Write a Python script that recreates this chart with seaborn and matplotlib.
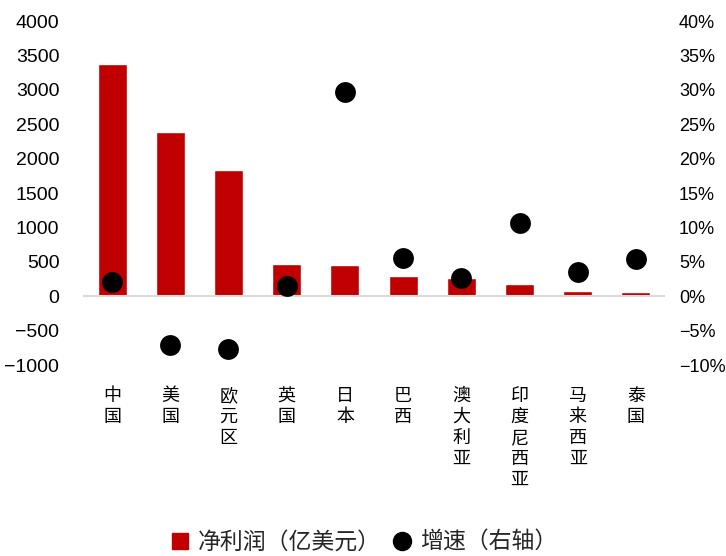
import numpy as np
import pandas as pd
import matplotlib
matplotlib.use("Agg")
import matplotlib.pyplot as plt
from matplotlib.lines import Line2D
from matplotlib.ticker import FuncFormatter
import seaborn as sns

# Net profit (100 million USD) and its growth rate by region
regions = ["中国", "美国", "欧元区", "英国", "日本", "巴西", "澳大利亚", "印度尼西亚", "马来西亚", "泰国"]
net_profit = [3380, 2385, 1835, 461, 451, 291, 267, 176, 83, 62]
growth_pct = [2.0, -7.1, -7.7, 1.45, 29.7, 5.6, 2.6, 10.7, 3.5, 5.4]

left_ticks = [-1000, -500, 0, 500, 1000, 1500, 2000, 2500, 3000, 3500, 4000]
right_ticks = [-10, -5, 0, 5, 10, 15, 20, 25, 30, 35, 40]

df = pd.DataFrame({"region": regions, "profit": net_profit, "growth": growth_pct})

sns.set_theme(style="white")
plt.rcParams["font.family"] = ["Liberation Sans", "Noto Sans CJK SC", "DejaVu Sans"]
plt.rcParams["axes.unicode_minus"] = True

BAR_RED = "#C00000"
CJK = ["Noto Sans CJK SC", "DejaVu Sans"]

fig = plt.figure(figsize=(7.26, 5.56), dpi=100)
ax = fig.add_axes([0.1143, 0.3435, 0.8017, 0.6187])

sns.barplot(data=df, x="region", y="profit", color=BAR_RED, width=0.5,
            saturation=1, ax=ax)
ax.set_ylim(-1000, 4000)
ax.set_xlim(-0.5, len(regions) - 0.5)
ax.set_yticks(left_ticks)
ax.yaxis.set_major_formatter(FuncFormatter(lambda v, p: f"{int(v)}".replace("-", "\u2212")))
ax.axhline(0, color="#d9d9d9", lw=1.5, zorder=1)

ax2 = ax.twinx()
sns.stripplot(data=df, x="region", y="growth", jitter=False, color="black",
              size=15, ax=ax2, zorder=5)
ax2.set_ylim(-10, 40)
ax2.set_xlim(-0.5, len(regions) - 0.5)
ax2.set_yticks(right_ticks)
ax2.yaxis.set_major_formatter(FuncFormatter(lambda v, p: f"{int(v)}%".replace("-", "\u2212")))

for a in (ax, ax2):
    for s in a.spines.values():
        s.set_visible(False)
    a.set_xlabel("")
    a.set_ylabel("")
    a.tick_params(axis="both", length=0, labelsize=14, colors="black")
    a.grid(False)

ax.tick_params(axis="y", pad=17)
ax2.tick_params(axis="y", pad=10, labelsize=13)

ax.set_xticks(range(len(regions)))
ax.set_xticklabels(["\n".join(r) for r in regions], family=CJK, fontsize=13,
                   va="top", linespacing=1.2)
ax.tick_params(axis="x", pad=16)

handles = [
    Line2D([], [], marker="s", color=BAR_RED, linestyle="none", markersize=12),
    Line2D([], [], marker="o", color="black", linestyle="none", markersize=13),
]
fig.legend(handles, ["净利润（亿美元）", "增速（右轴）"], loc="center",
           bbox_to_anchor=(0.50, 0.025), ncol=2, frameon=False,
           prop={"family": CJK, "size": 16.5}, handletextpad=0.3,
           columnspacing=0.4, handlelength=1.0)

fig.savefig("out.png", dpi=100)
